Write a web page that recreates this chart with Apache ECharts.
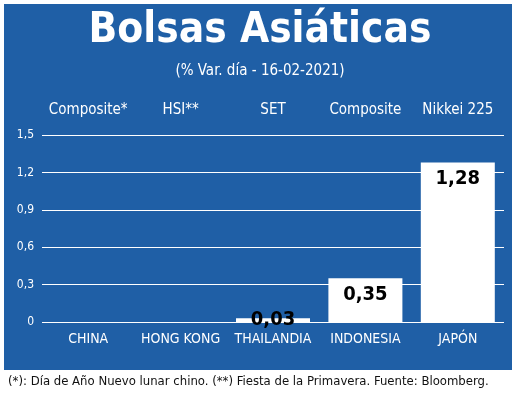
<!DOCTYPE html>
<html><head><meta charset="utf-8">
<script src="https://cdn.jsdelivr.net/npm/echarts@6/dist/echarts.min.js"></script>
<style>html,body{margin:0;padding:0;background:#fff}#c{width:520px;height:406px}</style>
</head><body><div id="c"></div>
<script>
const countries = ['CHINA','HONG KONG','THAILANDIA','INDONESIA','JAPÓN'];
const indices = ['Composite*','HSI**','SET','Composite','Nikkei 225'];
const values = [null, null, 0.03, 0.35, 1.28];
const yTicks = [0, 0.3, 0.6, 0.9, 1.2, 1.5];
const F = '"DejaVu Sans Condensed","Liberation Sans Narrow","Liberation Sans",sans-serif';
const fmt = v => String(v).replace('.', ',');
const chart = echarts.init(document.getElementById('c'));
chart.setOption({
  backgroundColor: '#fff',
  animation: false,
  graphic: [
    {type:'rect', shape:{x:4,y:4,width:508,height:366}, style:{fill:'#1f5fa6'}, z:-10},
    {type:'text', left:'center', top:10, style:{text:'Bolsas Asiáticas', fill:'#fff', font:'bold 42px '+F}},
    {type:'text', left:'center', top:64, style:{text:'(% Var. día - 16-02-2021)', fill:'#fff', font:'15px '+F}},
    {type:'text', left:8, top:375, style:{text:'(*): Día de Año Nuevo lunar chino. (**) Fiesta de la Primavera. Fuente: Bloomberg.', fill:'#111', font:'13px '+F}}
  ],
  grid: {left: 42, right: 16, top: 135, bottom: 84},
  xAxis: [
    {type:'category', data: countries, axisLine:{show:false}, axisTick:{show:false},
     axisLabel:{color:'#fff', fontFamily:F, fontSize:14, margin:10, interval:0}},
    {type:'category', position:'top', data: indices, axisLine:{show:false}, axisTick:{show:false},
     axisLabel:{color:'#fff', fontFamily:F, fontSize:15, margin:17, interval:0}}
  ],
  yAxis: {type:'value', min: yTicks[0], max: yTicks[yTicks.length-1], interval: 0.3,
    axisLine:{show:false}, axisTick:{show:false},
    splitLine:{lineStyle:{color:'#fff', width:1}},
    axisLabel:{color:'#fff', fontFamily:F, fontSize:12, margin:8, formatter: v => fmt(+v.toFixed(1))}},
  series: [{
    type:'bar', barWidth: 74,
    itemStyle:{color:'#fff'},
    label:{show:true, position:'insideTop', distance:6, color:'#000', fontFamily:F, fontWeight:'bold', fontSize:20,
      formatter: p => fmt(p.value.toFixed(2))},
    data: values.map(v => v === 0.03 ? {value:v, label:{position:'top', distance:-12}} : v)
  }]
});
</script></body></html>
